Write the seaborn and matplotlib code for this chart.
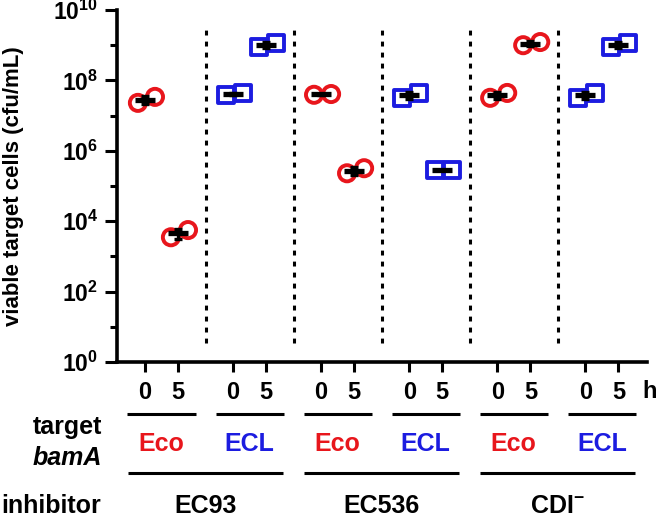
import numpy as np
import pandas as pd
import matplotlib
matplotlib.use("Agg")
import matplotlib.pyplot as plt
import matplotlib.transforms as mtransforms
import seaborn as sns

# Daten (cfu/mL, zwei Replikate je Bedingung)
inhibitors = ["EC93", "EC536", "CDI$^{\\mathbf{-}}$"]
targets = ["Eco", "ECL", "Eco", "ECL", "Eco", "ECL"]
time_labels = ["0", "5"]
rep_t0 = [[2.3e7, 3.4e7], [3.9e7, 4.4e7], [3.9e7, 4.1e7],
          [3.2e7, 4.4e7], [3.2e7, 4.4e7], [3.2e7, 4.4e7]]
rep_t5 = [[3.5e3, 5.6e3], [8.9e8, 1.15e9], [2.3e5, 3.2e5],
          [2.8e5, 2.9e5], [1.0e9, 1.23e9], [8.9e8, 1.15e9]]

RED = "#E8161C"
BLUE = "#1C1CE0"
colors = {"Eco": RED, "ECL": BLUE}
markers = {"Eco": "o", "ECL": "s"}

plt.rcParams["font.family"] = ["Liberation Sans", "DejaVu Sans"]
plt.rcParams["font.weight"] = "bold"
plt.rcParams["mathtext.fontset"] = "custom"
plt.rcParams["mathtext.rm"] = "Liberation Sans:bold"
plt.rcParams["mathtext.bf"] = "Liberation Sans:bold"
plt.rcParams["mathtext.it"] = "Liberation Sans:bold:italic"

LABEL_FS = 18

# Positionen: 0/5 h im Abstand 3, Gruppen im Abstand 8
tick_pos = []
for g in range(len(targets)):
    tick_pos += [g * 8, g * 8 + 3]
rep_offsets = [-0.65, 0.9]

rows = []
for g, tgt in enumerate(targets):
    for t, reps in enumerate([rep_t0[g], rep_t5[g]]):
        for r, val in enumerate(reps):
            rows.append({"x": tick_pos[2 * g + t] + rep_offsets[r],
                         "cfu": val, "target": tgt,
                         "center": tick_pos[2 * g + t]})
df = pd.DataFrame(rows)

fig = plt.figure(figsize=(6.6, 5.18), dpi=100)
ax = fig.add_axes([117 / 660, 1 - 362 / 518, 530 / 660, 352 / 518])

for tgt in ["Eco", "ECL"]:
    sub = df[df["target"] == tgt]
    n_before = len(ax.collections)
    sns.scatterplot(data=sub, x="x", y="cfu", marker=markers[tgt], s=135,
                    ax=ax, legend=False, zorder=3)
    for coll in ax.collections[n_before:]:
        coll.set_facecolor("none")
        coll.set_edgecolor(colors[tgt])
        coll.set_linewidth(2.8)

# Mittelwert und SD
stats = df.groupby("center")["cfu"].agg(["mean", "std"]).reset_index()
ax.hlines(stats["mean"], stats["center"] - 0.9, stats["center"] + 0.9,
          color="black", lw=3.8, zorder=4)
ax.errorbar(stats["center"], stats["mean"], yerr=stats["std"], fmt="none",
            ecolor="black", elinewidth=2.4, capsize=3, capthick=2.4,
            zorder=4)

# Trennlinien
for g in range(1, len(targets)):
    ax.axvline(g * 8 - 2.5, ymin=0.054, ymax=0.952, color="black",
               lw=2.2, ls=(0, (1.6, 2.0)))

ax.set_yscale("log")
ax.set_ylim(1, 1e10)
ax.set_xlim(-2.55, 45.6)
ax.set_yticks([10.0 ** k for k in range(0, 11, 2)])
ax.set_yticklabels(["$10^{%d}$" % k for k in range(0, 11, 2)], fontsize=16.5)
ax.set_yticks([10.0 ** k for k in range(1, 11, 2)], minor=True)
ax.yaxis.set_minor_formatter(plt.NullFormatter())
ax.set_xticks(tick_pos)
ax.set_xticklabels(time_labels * len(targets), fontsize=17,
                   fontweight="bold")
ax.tick_params(axis="y", which="major", length=8.5, width=2.2, pad=5)
ax.tick_params(axis="y", which="minor", length=5, width=2.2)
ax.tick_params(axis="x", which="major", length=7, width=2.2, pad=7)
ax.set_xlabel("")
ax.set_ylabel("viable target cells (cfu/mL)", fontsize=16,
              fontweight="bold")
ax.yaxis.set_label_coords(-0.176, 0.5)
for side in ["top", "right"]:
    ax.spines[side].set_visible(False)
for side in ["left", "bottom"]:
    ax.spines[side].set_linewidth(2.6)

# Beschriftung unterhalb der Achse
trans = mtransforms.blended_transform_factory(ax.transData, fig.transFigure)


def fy(px):
    return 1 - px / 518


fig.text(650 / 660, fy(392), "h", fontsize=17, fontweight="bold",
         ha="center", va="center")
for g, tgt in enumerate(targets):
    x0, x1 = tick_pos[2 * g], tick_pos[2 * g + 1]
    ax.plot([x0 - 1.6, x1 + 1.6], [fy(414)] * 2, transform=trans,
            color="black", lw=2.2, clip_on=False, solid_capstyle="butt")
    ax.text((x0 + x1) / 2, fy(444), tgt, transform=trans, fontsize=LABEL_FS,
            fontweight="bold", color=colors[tgt], ha="center", va="center")
for i, inh in enumerate(inhibitors):
    x0, x1 = tick_pos[4 * i], tick_pos[4 * i + 3]
    ax.plot([x0 - 1.55, x1 + 1.55], [fy(473)] * 2, transform=trans,
            color="black", lw=2.2, clip_on=False, solid_capstyle="butt")
    ax.text((x0 + x1) / 2, fy(506), inh, transform=trans, fontsize=LABEL_FS,
            fontweight="bold", ha="center", va="center")

fig.text(102 / 660, fy(427), "target", fontsize=LABEL_FS, fontweight="bold",
         ha="right", va="center")
fig.text(102 / 660, fy(458), "bamA", fontsize=LABEL_FS, fontweight="bold",
         style="italic", ha="right", va="center")
fig.text(1 / 660, fy(506), "inhibitor", fontsize=LABEL_FS, fontweight="bold",
         ha="left", va="center")

fig.savefig("out.png", dpi=100)
